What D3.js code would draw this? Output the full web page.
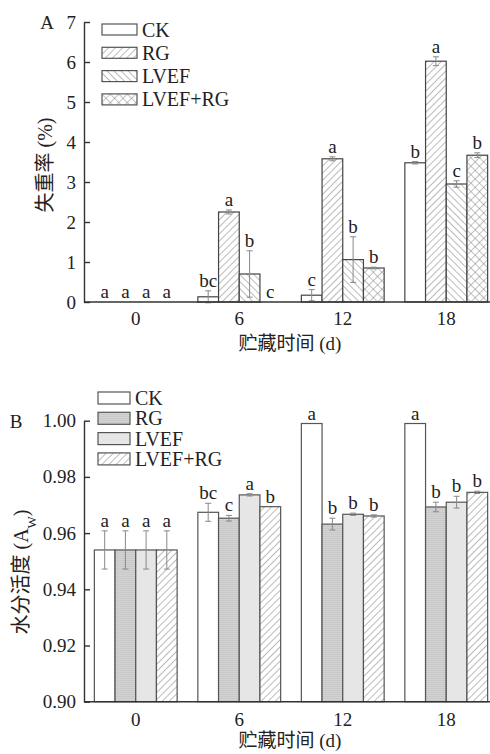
<!DOCTYPE html>
<html>
<head>
<meta charset="utf-8">
<script src="https://cdn.jsdelivr.net/npm/d3@7"></script>
<style>
  body { margin: 0; background: #fff; }
  svg text { font-family: "Liberation Serif", "Noto Sans CJK SC", serif; fill: #222; }
</style>
</head>
<body>
<div id="chart"></div>
<script>
// 贮藏时间和处理
const days = ["0", "6", "12", "18"];
const series = ["CK", "RG", "LVEF", "LVEF+RG"];

// A: 失重率 (%)
const lossCK = [0, 0.13, 0.17, 3.48];
const lossRG = [0, 2.25, 3.58, 6.02];
const lossLVEF = [0, 0.70, 1.06, 2.95];
const lossLVEFRG = [0, 0, 0.85, 3.67];
const lossErrCK = [0, 0.15, 0.14, 0.03];
const lossErrRG = [0, 0.05, 0.05, 0.11];
const lossErrLVEF = [0, 0.58, 0.57, 0.08];
const lossErrLVEFRG = [0, 0, 0.02, 0.06];
const lossSigCK = ["a", "bc", "c", "b"];
const lossSigRG = ["a", "a", "a", "a"];
const lossSigLVEF = ["a", "b", "b", "c"];
const lossSigLVEFRG = ["a", "c", "b", "b"];
const lossTicks = [0, 1, 2, 3, 4, 5, 6, 7];

// B: 水分活度 (Aw)
const awCK = [0.954, 0.9674, 0.999, 0.999];
const awRG = [0.954, 0.9653, 0.9632, 0.9693];
const awLVEF = [0.954, 0.9736, 0.9667, 0.9710];
const awLVEFRG = [0.954, 0.9694, 0.9661, 0.9745];
const awErrCK = [0.0068, 0.0032, 0, 0];
const awErrRG = [0.0068, 0.0010, 0.0021, 0.0017];
const awErrLVEF = [0.0068, 0.0004, 0.0004, 0.0021];
const awErrLVEFRG = [0.0068, 0, 0.0004, 0.0004];
const awSigCK = ["a", "bc", "a", "a"];
const awSigRG = ["a", "c", "b", "b"];
const awSigLVEF = ["a", "a", "b", "b"];
const awSigLVEFRG = ["a", "b", "b", "b"];
const awTicks = [0.90, 0.92, 0.94, 0.96, 0.98, 1.00];

const width = 490, height = 754;
const svg = d3.select("#chart").append("svg")
    .attr("width", width)
    .attr("height", height);

// 填充图案
const defs = svg.append("defs");
function hatch(id, angle, bg) {
    const p = defs.append("pattern")
        .attr("id", id)
        .attr("patternUnits", "userSpaceOnUse")
        .attr("width", 5).attr("height", 5)
        .attr("patternTransform", `rotate(${angle})`);
    p.append("rect").attr("width", 5).attr("height", 5).attr("fill", bg || "#fff");
    p.append("line").attr("x1", 0).attr("y1", 0).attr("x2", 0).attr("y2", 5)
        .attr("stroke", "#777").attr("stroke-width", 1);
}
hatch("hatchR", 45);
hatch("hatchL", -45);
const cross = defs.append("pattern")
    .attr("id", "cross")
    .attr("patternUnits", "userSpaceOnUse")
    .attr("width", 6).attr("height", 6)
    .attr("patternTransform", "rotate(45)");
cross.append("rect").attr("width", 6).attr("height", 6).attr("fill", "#fff");
cross.append("path").attr("d", "M0,0V6M0,0H6")
    .attr("stroke", "#777").attr("stroke-width", 0.9);
const hline = defs.append("pattern")
    .attr("id", "hline")
    .attr("patternUnits", "userSpaceOnUse")
    .attr("width", 4).attr("height", 2);
hline.append("rect").attr("width", 4).attr("height", 2).attr("fill", "#d2d2d2");
hline.append("line").attr("x1", 0).attr("y1", 0.5).attr("x2", 4).attr("y2", 0.5)
    .attr("stroke", "#c2c2c2").attr("stroke-width", 0.6);
hatch("hatchR2", 45);

const x = d3.scaleBand().domain(days).range([84, 498]).paddingInner(0.2).paddingOuter(0.1);
const xs = d3.scaleBand().domain(series).range([0, x.bandwidth()]);

function drawPanel(opt) {
    const y = opt.y;
    const g = svg.append("g");
    const base = y.range()[0];

    const rows = [];
    series.forEach((s, i) => {
        days.forEach((d, j) => {
            rows.push({ s, d, v: opt.means[i][j], e: opt.errs[i][j], sig: opt.sigs[i][j], fill: opt.fills[i] });
        });
    });

    g.selectAll("rect.bar").data(rows).join("rect")
        .attr("class", "bar")
        .attr("x", r => x(r.d) + xs(r.s))
        .attr("width", xs.bandwidth())
        .attr("y", r => y(r.v))
        .attr("height", r => base - y(r.v))
        .attr("fill", r => r.fill)
        .attr("stroke", opt.barStroke)
        .attr("stroke-width", 1.2);

    const eb = g.selectAll("g.err").data(rows.filter(r => r.e > 0)).join("g")
        .attr("class", "err")
        .attr("stroke", "#888").attr("stroke-width", 1);
    const cx = r => x(r.d) + xs(r.s) + xs.bandwidth() / 2;
    eb.append("line")
        .attr("x1", cx).attr("x2", cx)
        .attr("y1", r => y(r.v - r.e)).attr("y2", r => y(r.v + r.e));
    eb.append("line")
        .attr("x1", r => cx(r) - 3).attr("x2", r => cx(r) + 3)
        .attr("y1", r => y(r.v + r.e)).attr("y2", r => y(r.v + r.e));
    eb.append("line")
        .attr("x1", r => cx(r) - 3).attr("x2", r => cx(r) + 3)
        .attr("y1", r => y(r.v - r.e)).attr("y2", r => y(r.v - r.e));

    g.selectAll("text.sig").data(rows).join("text")
        .attr("class", "sig")
        .attr("x", cx)
        .attr("y", r => y(r.v + r.e) - 4)
        .attr("text-anchor", "middle")
        .style("font-size", "19px")
        .text(r => r.sig);

    // 坐标轴
    const yAxis = g.append("g")
        .attr("transform", `translate(84,0)`)
        .call(d3.axisLeft(y).tickValues(opt.ticks).tickFormat(opt.fmt)
            .tickSize(-6).tickSizeOuter(0).tickPadding(8));
    yAxis.selectAll("path,line").attr("stroke", "#333").attr("stroke-width", 1.4);
    yAxis.selectAll("text").style("font-size", "19px").attr("font-family", null);

    const xAxis = g.append("g")
        .attr("transform", `translate(0,${base})`)
        .call(d3.axisBottom(x).tickSize(0).tickPadding(opt.xPad));
    xAxis.select("path").attr("d", `M84,0H490`).attr("stroke", "#333").attr("stroke-width", 1.4);
    xAxis.selectAll("text").style("font-size", "19px").attr("font-family", null);

    g.append("text")
        .attr("x", 290).attr("y", base + opt.titleDy)
        .attr("text-anchor", "middle")
        .style("font-size", "19px")
        .text("贮藏时间 (d)");

    // 图例
    const lg = g.append("g");
    series.forEach((s, i) => {
        const ly = opt.legend.y + i * opt.legend.step;
        lg.append("rect")
            .attr("x", opt.legend.x).attr("y", ly)
            .attr("width", opt.legend.w).attr("height", opt.legend.h)
            .attr("fill", opt.fills[i]).attr("stroke", "#555").attr("stroke-width", 1.2);
        lg.append("text")
            .attr("x", opt.legend.x + opt.legend.w + 5)
            .attr("y", ly + opt.legend.h / 2 + 7)
            .style("font-size", "20px")
            .text(s);
    });

    g.append("text")
        .attr("x", opt.panel.x).attr("y", opt.panel.y)
        .attr("text-anchor", "middle")
        .style("font-size", "19px")
        .text(opt.panel.label);

    return g;
}

const yLoss = d3.scaleLinear().domain([0, 7]).range([302, 22]);
const gA = drawPanel({
    y: yLoss,
    means: [lossCK, lossRG, lossLVEF, lossLVEFRG],
    errs: [lossErrCK, lossErrRG, lossErrLVEF, lossErrLVEFRG],
    sigs: [lossSigCK, lossSigRG, lossSigLVEF, lossSigLVEFRG],
    fills: ["#fff", "url(#hatchR)", "url(#hatchL)", "url(#cross)"],
    barStroke: "#444",
    ticks: lossTicks,
    fmt: d3.format("d"),
    xPad: 10,
    titleDy: 48,
    legend: { x: 102, y: 24, step: 23.3, w: 35, h: 11 },
    panel: { x: 47, y: 29, label: "A" }
});
gA.append("text")
    .attr("transform", "translate(52,165) rotate(-90)")
    .attr("text-anchor", "middle")
    .style("font-size", "20px")
    .text("失重率 (%)");

const yAw = d3.scaleLinear().domain([0.90, 1.00]).range([701.7, 420.7]);
const gB = drawPanel({
    y: yAw,
    means: [awCK, awRG, awLVEF, awLVEFRG],
    errs: [awErrCK, awErrRG, awErrLVEF, awErrLVEFRG],
    sigs: [awSigCK, awSigRG, awSigLVEF, awSigLVEFRG],
    fills: ["#fff", "url(#hline)", "#e6e6e6", "url(#hatchR2)"],
    barStroke: "#555",
    ticks: awTicks,
    fmt: d3.format(".2f"),
    xPad: 11,
    titleDy: 45,
    legend: { x: 98, y: 392, step: 20.3, w: 32, h: 12 },
    panel: { x: 16, y: 428, label: "B" }
});
const awLabel = gB.append("text")
    .attr("transform", "translate(28,572) rotate(-90)")
    .attr("text-anchor", "middle")
    .style("font-size", "20px");
awLabel.append("tspan").text("水分活度 (A");
awLabel.append("tspan").attr("baseline-shift", "sub").style("font-size", "13px").text("W");
awLabel.append("tspan").text(")");
</script>
</body>
</html>
